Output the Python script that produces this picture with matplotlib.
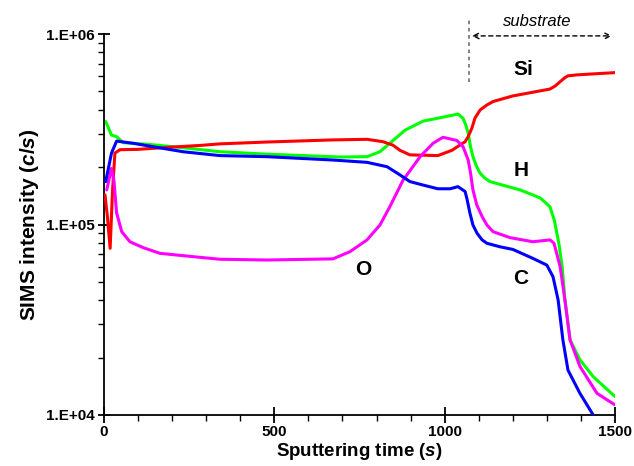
import math
import matplotlib
matplotlib.use("Agg")
import matplotlib.pyplot as plt
import matplotlib.transforms as mtransforms
from matplotlib.ticker import FixedLocator, FuncFormatter, LogLocator, MultipleLocator, NullFormatter

plt.rcParams['font.family'] = ['Liberation Sans', 'DejaVu Sans']
plt.rcParams['mathtext.fontset'] = 'custom'
plt.rcParams['mathtext.it'] = 'Liberation Sans:italic:bold'
plt.rcParams['mathtext.rm'] = 'Liberation Sans:bold'

# Si (red)
si_t = [3, 10, 18, 25, 32, 47, 100, 200, 282, 340, 478, 672, 772, 819, 848, 869, 898, 980,
        1021, 1060, 1069, 1080, 1089, 1104, 1124, 1142, 1200, 1309, 1324, 1339, 1353, 1362,
        1388, 1427, 1500]
si_v = [1.43e5, 1.1e5, 7.5e4, 1.5e5, 2.37e5, 2.47e5, 2.48e5, 2.55e5, 2.6e5, 2.65e5, 2.71e5,
        2.78e5, 2.8e5, 2.72e5, 2.61e5, 2.45e5, 2.32e5, 2.3e5, 2.45e5, 2.72e5, 2.89e5, 3.21e5,
        3.62e5, 3.99e5, 4.24e5, 4.42e5, 4.73e5, 5.14e5, 5.33e5, 5.62e5, 5.9e5, 6.03e5,
        6.1e5, 6.16e5, 6.27e5]

# H (green)
h_t = [5, 22, 37, 56, 135, 232, 340, 478, 693, 772, 810, 839, 884, 937, 995, 1039, 1054,
       1062, 1069, 1076, 1083, 1094, 1104, 1118, 1133, 1192, 1221, 1280, 1309, 1322, 1335,
       1345, 1353, 1368, 1397, 1436, 1500]
h_v = [3.47e5, 2.95e5, 2.89e5, 2.69e5, 2.63e5, 2.53e5, 2.41e5, 2.34e5, 2.26e5, 2.27e5,
       2.41e5, 2.67e5, 3.13e5, 3.49e5, 3.66e5, 3.8e5, 3.61e5, 3.33e5, 3.01e5, 2.56e5,
       2.27e5, 2.01e5, 1.86e5, 1.75e5, 1.68e5, 1.57e5, 1.52e5, 1.38e5, 1.24e5, 1.05e5,
       8.0e4, 6.0e4, 4.02e4, 2.48e4, 1.95e4, 1.59e4, 1.25e4]

# C (blue)
c_t = [5, 22, 37, 85, 173, 232, 340, 478, 672, 772, 831, 869, 898, 937, 980, 1016, 1039,
       1060, 1066, 1074, 1083, 1095, 1110, 1124, 1162, 1200, 1259, 1300, 1318, 1333, 1347,
       1362, 1397, 1436]
c_v = [1.68e5, 2.37e5, 2.74e5, 2.67e5, 2.51e5, 2.41e5, 2.3e5, 2.27e5, 2.18e5, 2.12e5,
       2.01e5, 1.82e5, 1.68e5, 1.61e5, 1.54e5, 1.54e5, 1.58e5, 1.49e5, 1.35e5, 1.15e5,
       9.94e4, 9.0e4, 8.3e4, 7.97e4, 7.64e4, 7.4e4, 6.64e4, 6.12e4, 5.32e4, 4.02e4,
       2.48e4, 1.72e4, 1.3e4, 1.0e4]

# O (magenta)
o_t = [8, 22, 29, 37, 52, 76, 115, 164, 232, 340, 478, 672, 722, 772, 810, 839, 878, 928,
       966, 995, 1036, 1054, 1069, 1076, 1083, 1094, 1110, 1124, 1142, 1192, 1259, 1309,
       1321, 1339, 1353, 1368, 1397, 1447, 1500]
o_v = [1.52e5, 1.97e5, 1.71e5, 1.15e5, 9.17e4, 8.12e4, 7.56e4, 7.06e4, 6.86e4, 6.57e4,
       6.51e4, 6.6e4, 7.2e4, 8.3e4, 9.94e4, 1.24e5, 1.71e5, 2.27e5, 2.67e5, 2.87e5, 2.76e5,
       2.56e5, 2.18e5, 1.86e5, 1.52e5, 1.27e5, 1.1e5, 9.94e4, 9.17e4, 8.53e4, 8.12e4,
       8.3e4, 7.97e4, 6.0e4, 4.02e4, 2.48e4, 1.8e4, 1.3e4, 1.13e4]

x_ticks = [0, 500, 1000, 1500]
y_ticks = [1e4, 1e5, 1e6]

fig = plt.figure(figsize=(6.34, 4.66), dpi=100)
ax = fig.add_axes([104/634, 51/466, 511/634, 381/466])

lw = 2.2
style = dict(lw=lw, solid_joinstyle='round', solid_capstyle='round')
ax.plot(si_t, si_v, color='#FF0000', zorder=3, **style)
ax.plot(h_t, h_v, color='#00FF00', zorder=2, **style)
ax.plot(o_t, o_v, color='#FF00FF', zorder=4, **style)
ax.plot(c_t, c_v, color='#0000FF', zorder=5, **style)

ax.set_yscale('log')
ax.set_xlim(0, 1500)
ax.set_ylim(1e4, 1e6)

for s in ['top', 'right']:
    ax.spines[s].set_visible(False)
for s in ['left', 'bottom']:
    ax.spines[s].set_linewidth(1.3)

ax.xaxis.set_major_locator(FixedLocator(x_ticks))
ax.xaxis.set_minor_locator(MultipleLocator(100))
ax.yaxis.set_major_locator(FixedLocator(y_ticks))
ax.yaxis.set_minor_locator(LogLocator(base=10, subs=range(2, 10)))
ax.yaxis.set_minor_formatter(NullFormatter())
ax.yaxis.set_major_formatter(FuncFormatter(lambda v, p: '1.E+%02d' % round(math.log10(v))))

ax.tick_params(axis='x', which='major', direction='inout', length=11, width=1.3,
               labelsize=11, pad=2)
ax.tick_params(axis='x', which='minor', direction='out', length=4, width=1.0)
ax.tick_params(axis='y', which='major', direction='inout', length=9, width=1.3,
               labelsize=11, pad=2)
ax.tick_params(axis='y', which='minor', direction='out', length=4, width=1.0)
for lab in ax.get_xticklabels() + ax.get_yticklabels():
    lab.set_fontweight('bold')

ax.set_xlabel(r'Sputtering time $\mathit{(s)}$', fontsize=13.5, fontweight='bold', labelpad=1)
ax.set_ylabel(r'SIMS intensity $\mathit{(c/s)}$', fontsize=15, fontweight='bold', labelpad=4)

# species labels
ax.text(1230, 6.55e5, 'Si', fontsize=15, fontweight='bold', ha='center', va='center')
ax.text(1224, 1.91e5, 'H', fontsize=15, fontweight='bold', ha='center', va='center')
ax.text(760, 5.83e4, 'O', fontsize=15, fontweight='bold', ha='center', va='center')
ax.text(1224, 5.23e4, 'C', fontsize=15, fontweight='bold', ha='center', va='center')

# substrate marker
trans = mtransforms.blended_transform_factory(ax.transData, ax.transAxes)
ax.plot([1071, 1071], [0.874, 1.037], transform=trans, color='#777777', lw=1.3,
        ls=(0, (2, 2)), clip_on=False)
ax.annotate('', xy=(1491, 0.995), xytext=(1080, 0.995), xycoords=trans, textcoords=trans,
            arrowprops=dict(arrowstyle='<->', ls=(0, (3, 2.5)), lw=1.0, color='black',
                            shrinkA=0, shrinkB=0), annotation_clip=False)
ax.text(1271, 1.034, 'substrate', transform=trans, fontsize=12, fontstyle='italic',
        ha='center', va='center')

fig.savefig('out.png', dpi=100)
